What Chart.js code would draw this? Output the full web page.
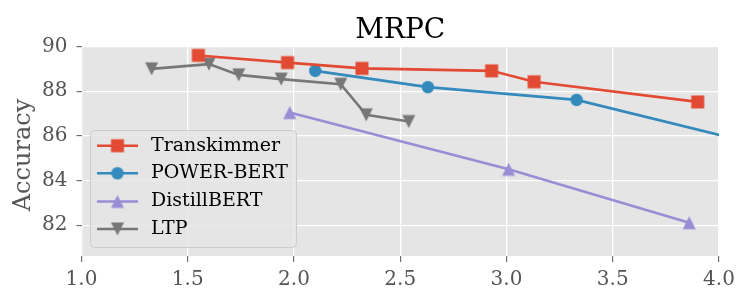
<!DOCTYPE html>
<html>
<head>
<meta charset="utf-8">
<script src="https://cdn.jsdelivr.net/npm/chart.js@4"></script>
<style>
  html, body { margin: 0; background: #fff; }
</style>
</head>
<body>
<canvas id="chart" width="748" height="303"></canvas>
<script>
// data
const xTicks = [1.0, 1.5, 2.0, 2.5, 3.0, 3.5, 4.0];
const yTicks = [82, 84, 86, 88, 90];

const transkimmerX = [1.55, 1.97, 2.32, 2.93, 3.13, 3.90];
const transkimmerY = [89.60, 89.28, 89.02, 88.91, 88.42, 87.52];

const powerBertX = [2.10, 2.63, 3.33, 4.60];
const powerBertY = [88.91, 88.18, 87.61, 84.64];

const distilBertX = [1.98, 3.01, 3.86];
const distilBertY = [87.04, 84.50, 82.11];

const ltpX = [1.33, 1.60, 1.74, 1.94, 2.22, 2.34, 2.54];
const ltpY = [89.00, 89.21, 88.73, 88.54, 88.31, 86.94, 86.64];

const FONT = "'DejaVu Serif', serif";

// matplotlib-like markers as small canvases
function makeMarker(shape, color) {
  const c = document.createElement('canvas');
  c.width = 16; c.height = 16;
  const g = c.getContext('2d');
  g.fillStyle = color;
  g.beginPath();
  if (shape === 's') {
    g.rect(1.5, 1.5, 13, 13);
  } else if (shape === 'o') {
    g.arc(8, 8, 6.2, 0, Math.PI * 2);
  } else if (shape === '^') {
    g.moveTo(8, 1.5); g.lineTo(14.5, 14.5); g.lineTo(1.5, 14.5);
  } else if (shape === 'v') {
    g.moveTo(8, 14.5); g.lineTo(14.5, 1.5); g.lineTo(1.5, 1.5);
  }
  g.closePath();
  g.fill();
  return c;
}

function toPoints(xs, ys) {
  return xs.map((x, i) => ({ x: x, y: ys[i] }));
}

function makeDataset(label, xs, ys, color, shape) {
  return {
    label: label,
    data: toPoints(xs, ys),
    borderColor: color,
    backgroundColor: color,
    borderWidth: 2.6,
    pointStyle: makeMarker(shape, color),
    pointRadius: 7,
    tension: 0,
    clip: 0,
  };
}

const bgPlugin = {
  id: 'bg',
  beforeDraw(chart) {
    const { ctx, chartArea: a } = chart;
    ctx.save();
    ctx.fillStyle = '#ffffff';
    ctx.fillRect(0, 0, chart.width, chart.height);
    ctx.fillStyle = '#e5e5e5';
    ctx.fillRect(a.left, a.top, a.right - a.left, a.bottom - a.top);
    ctx.restore();
  },
};

// title, y label and matplotlib style legend
const textPlugin = {
  id: 'texts',
  afterDraw(chart) {
    const { ctx, chartArea: a } = chart;
    ctx.save();
    ctx.fillStyle = '#000000';
    ctx.font = '28px ' + FONT;
    ctx.textAlign = 'center';
    ctx.textBaseline = 'alphabetic';
    ctx.fillText('MRPC', (a.left + a.right) / 2, 37.5);

    ctx.save();
    ctx.translate(24, 155);
    ctx.rotate(-Math.PI / 2);
    ctx.fillStyle = '#555555';
    ctx.font = '24px ' + FONT;
    ctx.textBaseline = 'middle';
    ctx.fillText('Accuracy', 0, 0);
    ctx.restore();

    // legend box
    const bx = 90.5, by = 130.5, bw = 206, bh = 117, r = 4;
    ctx.beginPath();
    ctx.moveTo(bx + r, by);
    ctx.arcTo(bx + bw, by, bx + bw, by + bh, r);
    ctx.arcTo(bx + bw, by + bh, bx, by + bh, r);
    ctx.arcTo(bx, by + bh, bx, by, r);
    ctx.arcTo(bx, by, bx + bw, by, r);
    ctx.closePath();
    ctx.fillStyle = 'rgba(229,229,229,0.8)';
    ctx.fill();
    ctx.strokeStyle = '#cccccc';
    ctx.lineWidth = 1;
    ctx.stroke();

    const rowY = [145.7, 173.3, 201.5, 229];
    chart.data.datasets.forEach((ds, i) => {
      const y = rowY[i];
      ctx.strokeStyle = ds.borderColor;
      ctx.lineWidth = ds.borderWidth;
      ctx.beginPath();
      ctx.moveTo(97, y);
      ctx.lineTo(138, y);
      ctx.stroke();
      const m = ds.pointStyle;
      ctx.drawImage(m, 117.5 - m.width / 2, y - m.height / 2);
      ctx.fillStyle = '#000000';
      ctx.font = '19px ' + FONT;
      ctx.textAlign = 'left';
      ctx.textBaseline = 'middle';
      ctx.fillText(ds.label, 151, y);
    });
    ctx.restore();
  },
};

new Chart(document.getElementById('chart'), {
  type: 'line',
  data: {
    datasets: [
      makeDataset('Transkimmer', transkimmerX, transkimmerY, '#E24A33', 's'),
      makeDataset('POWER-BERT', powerBertX, powerBertY, '#348ABD', 'o'),
      makeDataset('DistillBERT', distilBertX, distilBertY, '#988ED5', '^'),
      makeDataset('LTP', ltpX, ltpY, '#777777', 'v'),
    ],
  },
  options: {
    responsive: false,
    animation: false,
    layout: { padding: { top: 46.5, right: 29, left: 0, bottom: 0 } },
    plugins: {
      legend: { display: false },
      title: { display: false },
      tooltip: { enabled: false },
    },
    scales: {
      x: {
        type: 'linear',
        min: 1,
        max: 4,
        afterBuildTicks: (s) => { s.ticks = xTicks.map((v) => ({ value: v })); },
        afterFit: (s) => { s.height = 47; },
        ticks: {
          callback: (v) => Number(v).toFixed(1),
          color: '#555555',
          font: { family: FONT, size: 20 },
          padding: 6,
          maxRotation: 0,
          autoSkip: false,
        },
        grid: { color: '#ffffff', lineWidth: 1.3, tickColor: '#555555', tickLength: 6, tickWidth: 1 },
        border: { display: false },
      },
      y: {
        min: 80.62,
        max: 90.0,
        afterBuildTicks: (s) => { s.ticks = yTicks.map((v) => ({ value: v })); },
        afterFit: (s) => { s.width = 81.5; },
        ticks: {
          color: '#555555',
          font: { family: FONT, size: 20 },
          padding: 9,
          autoSkip: false,
        },
        grid: { color: '#ffffff', lineWidth: 1.3, tickColor: '#555555', tickLength: 5, tickWidth: 1 },
        border: { display: false },
      },
    },
  },
  plugins: [bgPlugin, textPlugin],
});
</script>
</body>
</html>
